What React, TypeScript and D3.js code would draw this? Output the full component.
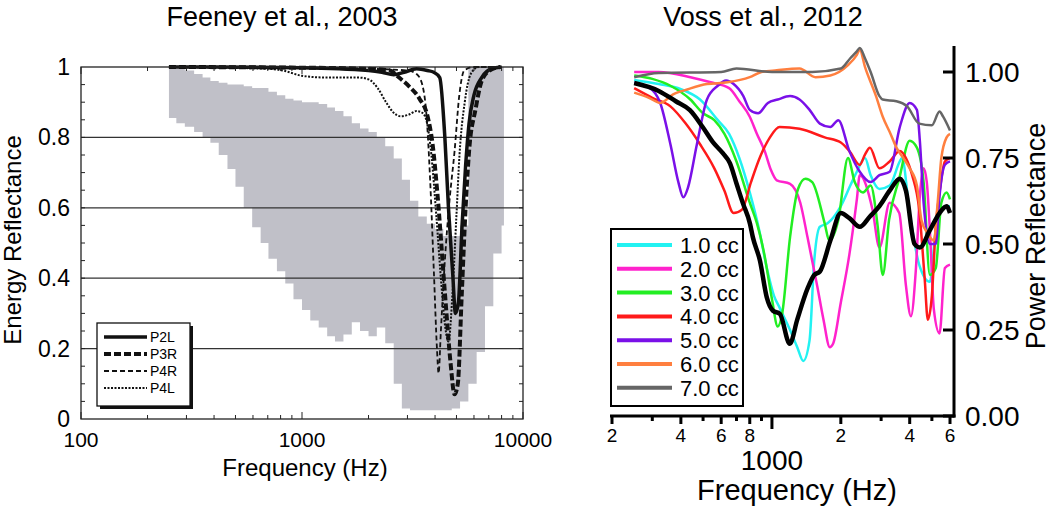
import React from 'react';
import * as d3 from 'd3';

// ---------- Feeney et al., 2003 (left) ----------
// normative range (shaded band), stepped
const bandFreq = [250, 270, 295, 325, 355, 385, 420, 460, 500, 545, 595, 650, 705, 770, 840, 915, 1000, 1090, 1190, 1300, 1410, 1540, 1680, 1830, 2000, 2180, 2380, 2600, 2830, 3080, 3360, 3670, 4000, 4360, 4760, 5190, 5660, 6170, 6730, 7340, 8000, 8200];
const bandLow = [0.855, 0.84, 0.83, 0.815, 0.8, 0.785, 0.75, 0.71, 0.66, 0.6, 0.545, 0.5, 0.455, 0.42, 0.385, 0.34, 0.31, 0.28, 0.26, 0.235, 0.22, 0.24, 0.275, 0.25, 0.235, 0.26, 0.215, 0.1, 0.03, 0.025, 0.025, 0.025, 0.025, 0.025, 0.03, 0.05, 0.1, 0.19, 0.32, 0.47, 0.55, 0.56];
const bandHigh = [1, 0.995, 0.99, 0.98, 0.97, 0.96, 0.955, 0.95, 0.95, 0.945, 0.94, 0.94, 0.93, 0.92, 0.91, 0.905, 0.9, 0.9, 0.895, 0.885, 0.875, 0.86, 0.84, 0.825, 0.815, 0.8, 0.775, 0.74, 0.68, 0.62, 0.575, 0.555, 0.54, 0.52, 0.52, 0.55, 1, 1, 1, 1, 1, 1];

const p2L = [[250, 1], [400, 1], [1000, 0.998], [2000, 0.99], [2300, 0.985], [2600, 0.978], [2900, 0.985], [3300, 0.995], [3700, 0.99], [3950, 0.985], [4200, 0.97], [4430, 0.8], [4600, 0.6], [4800, 0.42], [4950, 0.3], [5100, 0.33], [5300, 0.55], [5500, 0.72], [5700, 0.84], [6000, 0.92], [6500, 0.97], [7200, 0.995], [8000, 1]];
const p3R = [[250, 1], [1000, 0.998], [2000, 0.995], [2500, 0.99], [2750, 0.97], [3050, 0.945], [3400, 0.91], [3700, 0.86], [3900, 0.78], [4100, 0.64], [4430, 0.36], [4700, 0.16], [4900, 0.07], [5070, 0.1], [5280, 0.35], [5500, 0.6], [5700, 0.76], [6100, 0.88], [6500, 0.96], [7060, 0.99], [7900, 1]];
const p4R = [[250, 1], [1000, 0.998], [2000, 0.995], [3000, 0.99], [3300, 0.98], [3500, 0.95], [3650, 0.87], [3800, 0.68], [3950, 0.42], [4080, 0.2], [4150, 0.13], [4250, 0.25], [4430, 0.45], [4650, 0.62], [4900, 0.76], [5150, 0.92], [5420, 0.99], [6000, 1], [8000, 1]];
const p4L = [[250, 1], [700, 0.995], [820, 0.99], [1000, 0.975], [1300, 0.97], [1800, 0.97], [2000, 0.965], [2200, 0.94], [2400, 0.9], [2600, 0.87], [2800, 0.86], [3050, 0.865], [3300, 0.875], [3500, 0.87], [3650, 0.85], [3850, 0.75], [4050, 0.58], [4250, 0.4], [4450, 0.26], [4600, 0.22], [4800, 0.36], [5000, 0.58], [5160, 0.75], [5450, 0.9], [5800, 0.98], [6300, 1], [8000, 1]];

const leftSeries = [
  {name: 'P2L', data: p2L, width: 3.5, dash: null},
  {name: 'P3R', data: p3R, width: 4, dash: '7,3'},
  {name: 'P4R', data: p4R, width: 1.8, dash: '5,3'},
  {name: 'P4L', data: p4L, width: 2, dash: '2,1.5'},
];
const leftYLabels = [0, 0.2, 0.4, 0.6, 0.8, 1];
const leftXLabels = [100, 1000, 10000];

// ---------- Voss et al., 2012 (right) ----------
const cc1 = [[250, 0.977], [320, 0.965], [400, 0.95], [485, 0.92], [580, 0.86], [650, 0.82], [720, 0.75], [800, 0.65], [880, 0.54], [950, 0.43], [1020, 0.35], [1080, 0.315], [1200, 0.25], [1290, 0.2], [1370, 0.16], [1460, 0.22], [1530, 0.45], [1620, 0.55], [1750, 0.56], [2000, 0.61], [2200, 0.67], [2350, 0.71], [2550, 0.75], [2700, 0.7], [2950, 0.66], [3270, 0.67], [3620, 0.74], [3700, 0.75], [4000, 0.59], [4400, 0.44], [4900, 0.39], [5200, 0.54], [5700, 0.61], [6000, 0.61]];
const cc2 = [[250, 1], [320, 1], [440, 0.985], [540, 0.97], [650, 0.953], [720, 0.915], [800, 0.87], [860, 0.82], [930, 0.77], [990, 0.715], [1050, 0.685], [1200, 0.675], [1330, 0.62], [1430, 0.52], [1580, 0.375], [1680, 0.28], [1790, 0.2], [1850, 0.21], [2000, 0.33], [2180, 0.47], [2350, 0.63], [2420, 0.7], [2750, 0.6], [2950, 0.49], [3270, 0.62], [3600, 0.59], [3850, 0.38], [4050, 0.29], [4250, 0.42], [4430, 0.64], [4600, 0.72], [4750, 0.68], [4900, 0.54], [5100, 0.31], [5400, 0.24], [5700, 0.43], [6000, 0.44]];
const cc3 = [[250, 0.99], [300, 0.98], [360, 0.96], [440, 0.92], [500, 0.88], [560, 0.86], [620, 0.82], [700, 0.74], [800, 0.62], [860, 0.56], [920, 0.48], [1000, 0.34], [1060, 0.26], [1110, 0.3], [1200, 0.52], [1300, 0.66], [1400, 0.69], [1500, 0.68], [1700, 0.56], [1780, 0.51], [1950, 0.57], [2150, 0.75], [2300, 0.68], [2500, 0.65], [2700, 0.67], [2900, 0.55], [3050, 0.41], [3250, 0.57], [3600, 0.69], [4000, 0.8], [4300, 0.78], [4600, 0.68], [4900, 0.41], [5200, 0.43], [5500, 0.62], [5800, 0.65], [6000, 0.63]];
const cc4 = [[250, 0.953], [300, 0.925], [360, 0.9], [420, 0.85], [485, 0.79], [560, 0.72], [620, 0.655], [680, 0.59], [740, 0.6], [810, 0.68], [890, 0.755], [980, 0.81], [1080, 0.84], [1320, 0.835], [1700, 0.81], [2000, 0.795], [2180, 0.77], [2420, 0.73], [2550, 0.76], [2680, 0.78], [2950, 0.72], [3270, 0.74], [3620, 0.77], [3850, 0.75], [4100, 0.7], [4400, 0.6], [4650, 0.4], [4800, 0.28], [5000, 0.35], [5200, 0.55], [5400, 0.65], [5700, 0.74], [6000, 0.75]];
const cc5 = [[250, 0.968], [290, 0.955], [325, 0.91], [360, 0.79], [390, 0.68], [410, 0.636], [430, 0.665], [470, 0.79], [520, 0.92], [580, 0.96], [630, 0.975], [680, 0.965], [750, 0.93], [800, 0.89], [870, 0.88], [960, 0.91], [1060, 0.92], [1200, 0.93], [1320, 0.92], [1460, 0.89], [1620, 0.85], [1800, 0.84], [1950, 0.86], [2180, 0.77], [2420, 0.71], [2700, 0.68], [2950, 0.7], [3270, 0.71], [3620, 0.84], [4000, 0.91], [4300, 0.89], [4430, 0.8], [4600, 0.62], [4900, 0.5], [5200, 0.5], [5400, 0.64], [5700, 0.73], [6000, 0.74]];
const cc6 = [[250, 0.94], [290, 0.925], [325, 0.91], [370, 0.935], [430, 0.95], [520, 0.965], [640, 0.97], [800, 0.985], [900, 1], [1050, 1.005], [1320, 1.01], [1550, 0.985], [1800, 0.99], [2150, 1.02], [2350, 1.05], [2420, 1.065], [2550, 1.015], [2850, 0.93], [3050, 0.87], [3300, 0.82], [3500, 0.78], [3750, 0.75], [4000, 0.72], [4300, 0.67], [4500, 0.57], [4800, 0.53], [5100, 0.51], [5300, 0.62], [5500, 0.75], [5800, 0.81], [6000, 0.82]];
const cc7 = [[250, 0.985], [320, 0.997], [600, 1], [700, 1.01], [1000, 1], [1500, 1], [2000, 1.01], [2200, 1.04], [2350, 1.06], [2420, 1.07], [2550, 1.04], [2700, 1], [2950, 0.93], [3050, 0.92], [3500, 0.915], [3900, 0.9], [4400, 0.85], [5000, 0.845], [5400, 0.885], [5600, 0.87], [6000, 0.83]];
const meanCurve = [[250, 0.968], [320, 0.945], [380, 0.915], [438, 0.889], [498, 0.84], [552, 0.796], [610, 0.764], [655, 0.735], [700, 0.676], [747, 0.618], [801, 0.56], [825, 0.52], [886, 0.452], [950, 0.344], [1010, 0.306], [1083, 0.297], [1197, 0.21], [1290, 0.28], [1430, 0.37], [1530, 0.41], [1620, 0.42], [1800, 0.51], [2000, 0.59], [2180, 0.575], [2420, 0.55], [2680, 0.58], [2950, 0.61], [3270, 0.655], [3620, 0.69], [3850, 0.655], [4200, 0.5], [4430, 0.49], [4900, 0.54], [5400, 0.59], [5800, 0.61], [6000, 0.59]];

const rightSeries = [
  {name: '1.0 cc', data: cc1, color: '#22f2f2'},
  {name: '2.0 cc', data: cc2, color: '#ff22cc'},
  {name: '3.0 cc', data: cc3, color: '#22ee22'},
  {name: '4.0 cc', data: cc4, color: '#ff1a1a'},
  {name: '5.0 cc', data: cc5, color: '#7a10e8'},
  {name: '6.0 cc', data: cc6, color: '#ff7f3f'},
  {name: '7.0 cc', data: cc7, color: '#666666'},
];
const rightYLabels = [0, 0.25, 0.5, 0.75, 1];
const rightXTicks = [200, 300, 400, 500, 600, 700, 800, 900, 1000, 2000, 3000, 4000, 5000, 6000];
const rightXLabels = {200: '2', 400: '4', 600: '6', 800: '8', 2000: '2', 4000: '4', 6000: '6'};

const FONT = 'Liberation Sans, Arial, Helvetica, sans-serif';

function LeftPanel() {
  const x = d3.scaleLog().domain([100, 10000]).range([81, 523]);
  const y = d3.scaleLinear().domain([0, 1]).range([419, 67]);
  const [x0, x1] = x.range();
  const [y0, y1] = y.range();

  const band = bandFreq.map((f, i) => ({f, lo: bandLow[i], hi: bandHigh[i]}));
  const area = d3.area<any>().x(d => x(d.f)).y0(d => y(d.lo)).y1(d => y(d.hi)).curve(d3.curveStepAfter);
  const line = d3.line<number[]>().x(d => x(d[0])).y(d => y(d[1])).curve(d3.curveMonotoneX);

  const minor = [200, 300, 400, 500, 600, 700, 800, 900, 2000, 3000, 4000, 5000, 6000, 7000, 8000, 9000];
  const yMinor = d3.range(0.05, 1, 0.05);

  return (
    <g fontFamily={FONT}>
      <text x={282} y={26} textAnchor="middle" fontSize={27}>Feeney et al., 2003</text>
      <path d={area(band) || ''} fill="#c0c0c8" />
      {[0.2, 0.4, 0.6, 0.8].map(v => (
        <line key={v} x1={x0} x2={x1} y1={y(v)} y2={y(v)} stroke="#333" strokeWidth={1.3} />
      ))}
      {leftSeries.map(s => (
        <path key={s.name} d={line(s.data as number[][]) || ''} fill="none" stroke="#111"
          strokeWidth={s.width} strokeDasharray={s.dash || undefined} />
      ))}
      <rect x={x0} y={y1} width={x1 - x0} height={y0 - y1} fill="none" stroke="#222" strokeWidth={1.3} />
      {minor.map(f => (
        <g key={f}>
          <line x1={x(f)} x2={x(f)} y1={y0} y2={y0 - 4} stroke="#222" />
          <line x1={x(f)} x2={x(f)} y1={y1} y2={y1 + 4} stroke="#222" />
        </g>
      ))}
      {leftXLabels.map(f => (
        <g key={f}>
          <line x1={x(f)} x2={x(f)} y1={y0} y2={y0 - 7} stroke="#222" />
          <line x1={x(f)} x2={x(f)} y1={y1} y2={y1 + 7} stroke="#222" />
          <text x={x(f)} y={447} textAnchor="middle" fontSize={21}>{f}</text>
        </g>
      ))}
      {yMinor.map(v => (
        <g key={v}>
          <line x1={x0} x2={x0 + 4} y1={y(v)} y2={y(v)} stroke="#222" />
          <line x1={x1} x2={x1 - 4} y1={y(v)} y2={y(v)} stroke="#222" />
        </g>
      ))}
      {leftYLabels.map(v => (
        <text key={v} x={70} y={y(v) + 8} textAnchor="end" fontSize={23}>{d3.format('~g')(v)}</text>
      ))}
      <text x={305} y={476} textAnchor="middle" fontSize={24}>Frequency (Hz)</text>
      <text transform="translate(21,240) rotate(-90)" textAnchor="middle" fontSize={24}>Energy Reflectance</text>
      {/* legend */}
      <rect x={100} y={326} width={93} height={83} fill="#111" />
      <rect x={97} y={323} width={93} height={83} fill="#fff" stroke="#111" strokeWidth={1.3} />
      {leftSeries.map((s, i) => (
        <g key={s.name}>
          <line x1={104} x2={147} y1={337 + i * 17} y2={337 + i * 17} stroke="#111" strokeWidth={s.width}
            strokeDasharray={s.dash || undefined} />
          <text x={150} y={342 + i * 17} fontSize={14}>{s.name}</text>
        </g>
      ))}
    </g>
  );
}

function RightPanel() {
  const x = d3.scaleLog().domain([200, 6000]).range([612, 950]);
  const y = d3.scaleLinear().domain([0, 1]).range([416, 72]);
  const line = d3.line<number[]>().x(d => x(d[0])).y(d => y(d[1])).curve(d3.curveMonotoneX);
  const axisX = 954;
  const axisY = 416;

  return (
    <g fontFamily={FONT}>
      <text x={763} y={26} textAnchor="middle" fontSize={27}>Voss et al., 2012</text>
      {rightSeries.map(s => (
        <path key={s.name} d={line(s.data as number[][]) || ''} fill="none" stroke={s.color} strokeWidth={2.5}
          strokeLinejoin="round" />
      ))}
      <path d={line(meanCurve as number[][]) || ''} fill="none" stroke="#000" strokeWidth={4.5} strokeLinejoin="round" />
      {/* axes */}
      <line x1={610} x2={axisX + 1.5} y1={axisY} y2={axisY} stroke="#000" strokeWidth={3} />
      <line x1={axisX} x2={axisX} y1={46} y2={axisY + 1.5} stroke="#000" strokeWidth={3} />
      {rightXTicks.map(f => {
        const len = f === 1000 ? 13 : rightXLabels[f] ? 8 : 5;
        return <line key={f} x1={x(f)} x2={x(f)} y1={axisY} y2={axisY + len} stroke="#000" strokeWidth={3} />;
      })}
      {rightXTicks.filter(f => rightXLabels[f]).map(f => (
        <text key={f} x={x(f)} y={442} textAnchor="middle" fontSize={19}>{rightXLabels[f]}</text>
      ))}
      <text x={x(1000)} y={470} textAnchor="middle" fontSize={28}>1000</text>
      <text x={797} y={500} textAnchor="middle" fontSize={29}>Frequency (Hz)</text>
      {rightYLabels.map(v => (
        <g key={v}>
          <line x1={axisX - 11} x2={axisX} y1={y(v)} y2={y(v)} stroke="#000" strokeWidth={3} />
          <text x={965} y={y(v) + 10} fontSize={28}>{d3.format('.2f')(v)}</text>
        </g>
      ))}
      <text transform="translate(1045,236) rotate(-90)" textAnchor="middle" fontSize={27}>Power Reflectance</text>
      {/* legend */}
      <rect x={611} y={229} width={132} height={177} fill="#fff" stroke="#000" strokeWidth={2} />
      {rightSeries.map((s, i) => (
        <g key={s.name}>
          <line x1={617} x2={672} y1={245 + i * 23.8} y2={245 + i * 23.8} stroke={s.color} strokeWidth={4} />
          <text x={680} y={253 + i * 23.8} fontSize={22}>{s.name}</text>
        </g>
      ))}
    </g>
  );
}

export default function App() {
  return (
    <svg width={1050} height={508} style={{position: 'absolute', left: 0, top: 0, background: '#fff'}}>
      <LeftPanel />
      <RightPanel />
    </svg>
  );
}
